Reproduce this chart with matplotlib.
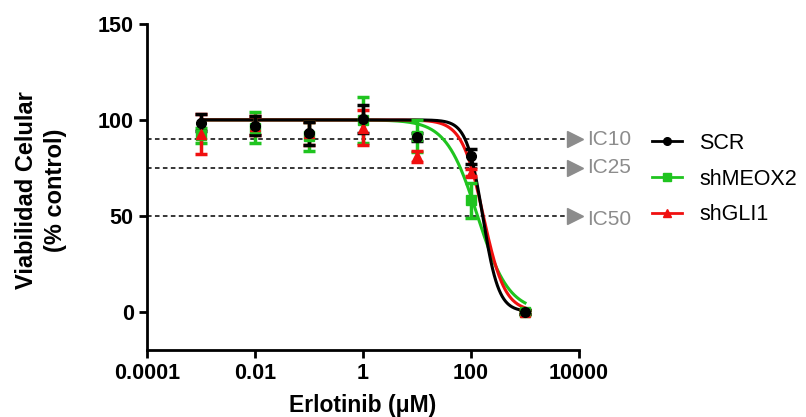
import numpy as np
import matplotlib
matplotlib.use("Agg")
import matplotlib.pyplot as plt
import matplotlib.transforms as mtransforms
from matplotlib.lines import Line2D

plt.rcParams['font.family'] = ['Liberation Sans', 'DejaVu Sans']

# concentrations (uM)
conc = [0.001, 0.01, 0.1, 1, 10, 100, 1000]

# mean viability (% control) and error
scr_mean = [98.5, 97, 93, 100.5, 91, 81, 0]
scr_err = [4.5, 5, 6, 7.5, 2, 4, 1]
meox_mean = [92, 96, 91.5, 100, 91.5, 58, 0]
meox_err = [4, 8, 7.5, 12, 8.5, 9, 1]
gli_mean = [92.5, 97, 93, 96, 81, 72.5, 0]
gli_err = [10.5, 5, 6, 9, 3, 2, 1]

# fitted curve params (logIC50, hill slope)
fits = {"SCR": (2.215, 2.93), "shMEOX2": (2.12, 1.5), "shGLI1": (2.228, 2.19)}

ic_levels = [90, 75, 50]
ic_labels = ["IC10", "IC25", "IC50"]

GREEN = "#1fc41f"
RED = "#f01010"

fig = plt.figure(figsize=(8.06, 4.17), dpi=100)
ax = fig.add_axes([147/806, 1-350/417, 432/806, 326/417])

# dashed IC lines with arrows
trans = mtransforms.blended_transform_factory(ax.transAxes, ax.transData)
for lev, lab in zip(ic_levels, ic_labels):
    ax.plot([0, 0.97], [lev, lev], ls=(0, (3, 2.2)), color="black", lw=1.1,
            transform=trans, clip_on=False, zorder=1)
    ax.plot([0.99], [lev], marker=">", ms=12, color="#8c8c8c", mec="#8c8c8c",
            transform=trans, clip_on=False, zorder=1)
    dy = -2 if lab == "IC50" else 0
    ax.text(1.018, lev + dy, lab, transform=trans, color="#8c8c8c",
            fontsize=15, va="center", ha="left")

xs = np.logspace(-3, 3, 400)
def hill(x, logic, h):
    return 100 / (1 + 10 ** (h * (np.log10(x) - logic)))

series = [
    ("shMEOX2", meox_mean, meox_err, GREEN, "s"),
    ("shGLI1", gli_mean, gli_err, RED, "^"),
    ("SCR", scr_mean, scr_err, "black", "o"),
]
for name, m, e, col, mk in series:
    ax.errorbar(conc, m, yerr=e, fmt=mk, color=col, ms=7, elinewidth=2.5,
                capsize=4, capthick=2.5, zorder=3)
    logic, h = fits[name]
    ax.plot(xs, hill(xs, logic, h), color=col, lw=2.2, zorder=2)

leg_h = [Line2D([], [], color="black", marker="o", ms=5.5, lw=2),
         Line2D([], [], color=GREEN, marker="s", ms=5.5, lw=2),
         Line2D([], [], color=RED, marker="^", ms=5.5, lw=2)]
fig.legend(leg_h, ["SCR", "shMEOX2", "shGLI1"], loc="upper left",
           bbox_to_anchor=(652/806, 1-133/417), bbox_transform=fig.transFigure,
           frameon=False, fontsize=15.5, borderpad=0, borderaxespad=0,
           handlelength=1.4, labelspacing=0.68, handletextpad=0.8)

ax.set_xscale("log")
ax.set_xlim(1e-4, 1e4)
ax.set_ylim(-20, 150)
ax.set_xticks([1e-4, 1e-2, 1, 1e2, 1e4])
ax.set_xticklabels(["0.0001", "0.01", "1", "100", "10000"])
ax.minorticks_off()
ax.set_yticks([0, 50, 100, 150])
for s in ["top", "right"]:
    ax.spines[s].set_visible(False)
for s in ["left", "bottom"]:
    ax.spines[s].set_linewidth(2)
ax.tick_params(width=2, length=6, labelsize=15.5)
for t in ax.get_xticklabels() + ax.get_yticklabels():
    t.set_fontweight("bold")

ax.set_xlabel("Erlotinib (\u03bcM)", fontsize=16.5, fontweight="bold", labelpad=7)
fig.text(41/806, 1-190/417, "Viabilidad Celular\n(% control)", rotation=90,
         ha="center", va="center", multialignment="center", fontsize=17,
         fontweight="bold", linespacing=1.3)

fig.savefig("out.png", dpi=100)
